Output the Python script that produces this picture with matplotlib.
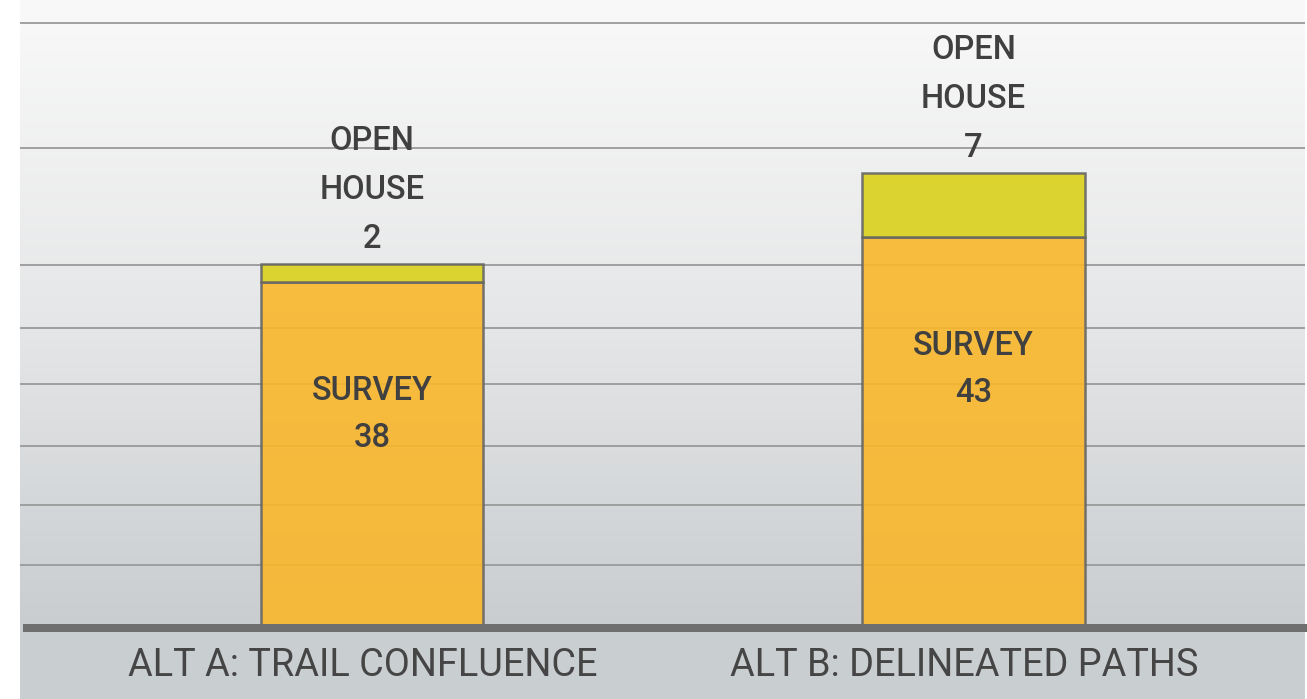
import numpy as np
import matplotlib.pyplot as plt
from matplotlib.colors import LinearSegmentedColormap

plt.rcParams['font.family'] = ['Roboto', 'DejaVu Sans']

categories = ["ALT A: TRAIL CONFLUENCE", "ALT B: DELINEATED PATHS"]
survey = [38, 43]
open_house = [2, 7]
gridlines = [6.9, 13.5, 20.0, 26.8, 33.0, 39.9, 52.7, 66.5]

survey_color = '#f9b72b'
open_color = '#dad11a'
edge_color = '#666666'
text_color = '#404040'
px = 72 / 100  # points per pixel at dpi 100

fig = plt.figure(figsize=(13.07, 6.99), dpi=100)
ax = fig.add_axes([20 / 1307, 0, 1285 / 1307, 1])
ax.set_xlim(-0.585, 1.551)
ax.set_ylim(-7.8, 69.0)
ax.set_facecolor('#c9ced1')
for s in ax.spines.values():
    s.set_visible(False)
ax.set_xticks([])
ax.set_yticks([])

# vertical gradient behind the plotting area
bg = LinearSegmentedColormap.from_list('bg', ['#c9cdd0', '#e6e7e8', '#f9f9f9'])
grad = np.linspace(0, 1, 256).reshape(-1, 1)
ax.imshow(grad, cmap=bg, origin='lower', aspect='auto',
          extent=(-0.585, 1.551, 0, 69.0), zorder=0)

for g in gridlines:
    ax.axhline(g, color='#999999', lw=1.3, zorder=1)

x = np.arange(len(categories))
width = 0.37
ax.bar(x, survey, width, color=survey_color, alpha=0.9,
       edgecolor=edge_color, linewidth=1.8, zorder=2)
ax.bar(x, open_house, width, bottom=survey, color=open_color, alpha=0.9,
       edgecolor=edge_color, linewidth=1.8, zorder=2)

ax.axhline(0, xmin=0.002, xmax=1.002, color='#6f6f6f', lw=8 * px,
           solid_capstyle='butt', zorder=3, clip_on=False)

lbl = dict(ha='center', va='baseline', fontsize=23.5, color=text_color,
           fontweight='medium', textcoords='offset points', zorder=4)
for i in range(len(categories)):
    top = survey[i]
    for k, line in enumerate(["SURVEY", str(survey[i])]):
        ax.annotate(line, (x[i], top), xytext=(0, -(118 + 47 * k) * px), **lbl)
    total = survey[i] + open_house[i]
    for k, line in enumerate([str(open_house[i]), "HOUSE", "OPEN"]):
        ax.annotate(line, (x[i], total), xytext=(0, (16 + 49 * k) * px), **lbl)
    ax.annotate(categories[i], (x[i], 0), xytext=(-9 * px, -48 * px),
                textcoords='offset points', ha='center', va='baseline',
                fontsize=27.3, color='#454545', zorder=4)

fig.savefig('out.png', dpi=100)
